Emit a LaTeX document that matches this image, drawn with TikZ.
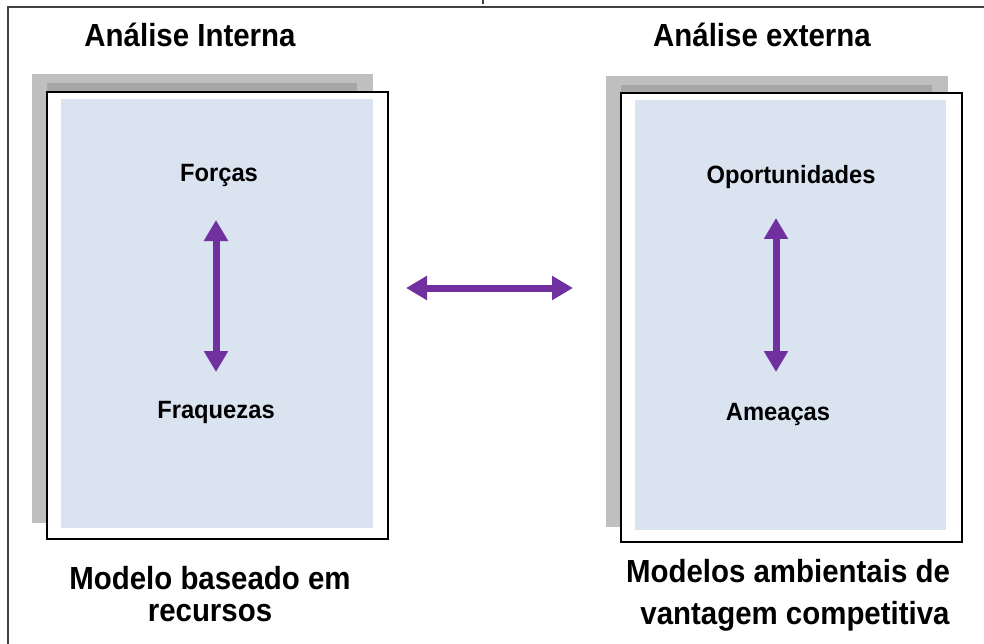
\documentclass[tikz,border=0pt]{standalone}
\usepackage{fontspec}
\setmainfont{Liberation Sans}
\newfontfamily\narrowsans[FakeStretch=0.92]{Liberation Sans}
\newfontfamily\labelsans[FakeStretch=0.95]{Liberation Sans}
\usetikzlibrary{arrows.meta}
\definecolor{shadelight}{HTML}{BFBFBF}
\definecolor{shadedark}{HTML}{A6A6A6}
\definecolor{paneblue}{HTML}{DAE3F0}
\definecolor{arrowpurple}{HTML}{7030A0}
\definecolor{framegray}{HTML}{404040}
\tikzset{
  title/.style={font=\narrowsans\fontsize{32}{36}\selectfont\bfseries, inner sep=0pt},
  label/.style={font=\labelsans\fontsize{25}{29}\selectfont\bfseries, inner sep=0pt},
  caption/.style={font=\narrowsans\fontsize{32}{36}\selectfont\bfseries, inner sep=0pt},
  bigarrow/.style={arrowpurple, line width=7pt, {Triangle[length=21pt,width=23pt]}-{Triangle[length=21pt,width=23pt]}},
  frameline/.style={framegray, line width=1.5pt},
  boxline/.style={black, line width=1.5pt}
}
\begin{document}
\begin{tikzpicture}[x=1pt,y=-1pt]
\useasboundingbox (0,0) rectangle (984,644);
% outer frame
\draw[frameline] (984,7) -- (8,7) -- (8,644);
\draw[framegray, line width=2pt] (483,0) -- (483,4);
% left panel
\fill[shadelight] (32,74) rectangle (373,523);
\fill[shadedark] (47,83) rectangle (357,92);
\draw[boxline, fill=white] (47,92) rectangle (388,539);
\fill[paneblue] (61,99) rectangle (373,528);
% right panel
\fill[shadelight] (606,76) rectangle (948,527);
\fill[shadedark] (621,85) rectangle (932,93);
\draw[boxline, fill=white] (621,93) rectangle (962,542);
\fill[paneblue] (635,100) rectangle (946,530);
% titles
\node[title] (ti) at (190,35) {Análise Interna};
\node[title] (te) at (762,35) {Análise externa};
% labels
\node[label] (forcas) at (219,175) {Forças};
\node[label] (fraq) at (216,412) {Fraquezas};
\node[label] (oport) at (791,177) {Oportunidades};
\node[label] (amea) at (778,414) {Ameaças};
% arrow ends
\coordinate (a1) at (216,220);
\coordinate (a2) at (216,372);
\coordinate (b1) at (776,218);
\coordinate (b2) at (776,372);
\coordinate (h1) at (406,288);
\coordinate (h2) at (573,288);
\draw[bigarrow] (a1) -- (a2);
\draw[bigarrow] (b1) -- (b2);
\draw[bigarrow] (h1) -- (h2);
% captions
\node[caption] (c1) at (210,578) {Modelo baseado em};
\node[caption] (c2) at (210,613) {recursos};
\node[caption] (c3) at (788,571) {Modelos ambientais de};
\node[caption] (c4) at (795,616) {vantagem competitiva};
\end{tikzpicture}
\end{document}
